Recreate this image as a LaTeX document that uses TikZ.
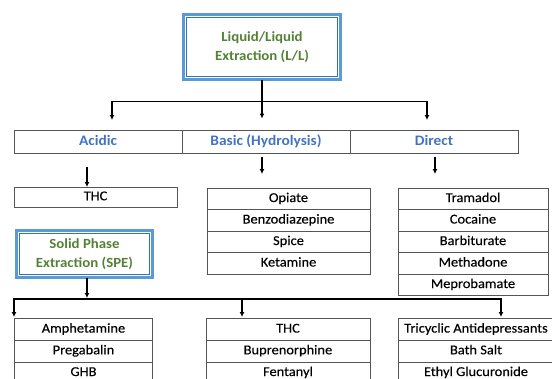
\documentclass[tikz,border=0pt]{standalone}
\usepackage{fontspec}
\setmainfont{Carlito}[FakeStretch=1.06]
\newfontfamily\itemfont{Carlito}[FakeStretch=1.07, FakeBold=0.25]
\usetikzlibrary{calc,positioning,arrows.meta}
\definecolor{outerblue}{RGB}{91,155,213}
\definecolor{innerblue}{RGB}{46,117,182}
\definecolor{headblue}{RGB}{68,114,196}
\definecolor{extgreen}{RGB}{84,130,53}
\definecolor{gridgray}{RGB}{85,85,85}
\tikzset{
  extbox/.style={draw=outerblue, line width=3pt, inner sep=0pt, outer sep=0pt, align=center, text=extgreen, font=\fontsize{14}{19}\selectfont\bfseries},
  headcell/.style={draw=gridgray, line width=0.8pt, inner sep=0pt, outer sep=0pt, minimum width=168pt, minimum height=23pt, text=headblue, font=\fontsize{14.5}{16}\selectfont\bfseries, text height=10pt, text depth=3pt},
  cell/.style={draw=gridgray, line width=0.8pt, inner sep=0pt, outer sep=0pt, minimum width=#1, minimum height=21.5pt, font=\itemfont\fontsize{13.5}{15}\selectfont, text height=9.5pt, text depth=3pt},
  link/.style={line width=1.3pt}
}
\begin{document}
\begin{tikzpicture}[x=1pt, y=-1pt, >={Latex[length=5pt,width=5pt]}]
  \useasboundingbox (0,0) rectangle (552,378);
  \clip (0,0) rectangle (552,378);
	\node[extbox, minimum width=157pt, minimum height=65pt] (LL) at (262,47) {Liquid/Liquid\\Extraction (L/L)};
	\node[headcell] (HA) at (98,141.5) {Acidic};
	\node[headcell, right=0pt of HA] (HB) {Basic (Hydrolysis)};
	\node[headcell, right=0pt of HB] (HD) {Direct};
	\node[cell=163pt, minimum height=20pt] (THC) at (95.5,197) {THC};
	\node[cell=163pt] (B1) at (288.5,198.75) {Opiate};
	\node[cell=163pt, below=0pt of B1] (B2) {Benzodiazepine};
	\node[cell=163pt, below=0pt of B2] (B3) {Spice};
	\node[cell=163pt, below=0pt of B3] (B4) {Ketamine};
	\node[cell=150pt] (D1) at (473,198.75) {Tramadol};
	\node[cell=150pt, below=0pt of D1] (D2) {Cocaine};
	\node[cell=150pt, below=0pt of D2] (D3) {Barbiturate};
	\node[cell=150pt, below=0pt of D3] (D4) {Methadone};
	\node[cell=150pt, below=0pt of D4] (D5) {Meprobamate};
	\node[extbox, minimum width=136pt, minimum height=47pt] (SPE) at (84.5,254) {Solid Phase\\Extraction (SPE)};
	\node[cell=138pt, minimum height=21.7pt] (L1) at (83.5,329.35) {Amphetamine};
	\node[cell=138pt, minimum height=21.7pt, below=0pt of L1] (L2) {Pregabalin};
	\node[cell=138pt, minimum height=21.7pt, below=0pt of L2] (L3) {GHB};
	\node[cell=164pt, minimum height=21.7pt] (M1) at (288,329.35) {THC};
	\node[cell=164pt, minimum height=21.7pt, below=0pt of M1] (M2) {Buprenorphine};
	\node[cell=164pt, minimum height=21.7pt, below=0pt of M2] (M3) {Fentanyl};
	\node[cell=156pt, minimum height=21.7pt] (R1) at (476,329.35) {Tricyclic Antidepressants};
	\node[cell=156pt, minimum height=21.7pt, below=0pt of R1] (R2) {Bath Salt};
	\node[cell=156pt, minimum height=21.7pt, below=0pt of R2] (R3) {Ethyl Glucuronide};
	% inner frame of the extraction boxes
	\foreach \b in {LL,SPE}
	  \draw[innerblue, line width=1.2pt] ($(\b.north west)+(3.2,3.2)$) rectangle ($(\b.south east)+(-3.2,-3.2)$);
	\coordinate (tA) at (112,120);
	\coordinate (tD) at (427,120);
	\coordinate (sA) at (87,167);
	\coordinate (sB) at (262,157);
	\coordinate (eB) at (262,174);
	\coordinate (sD) at (435,157);
	\coordinate (eD) at (435,174);
	\coordinate (fk) at (87,299);
	\coordinate (cL) at (14,317);
	\coordinate (cM) at (242,317);
	\coordinate (cR) at (501,317);
	\draw[link,->] (LL.south) -- ++(0,39);
	\draw[link,->] ($(LL.south)+(0,22)$) -| (tA);
	\draw[link,->] ($(LL.south)+(0,22)$) -| (tD);
	\draw[link,->] (sA) -- (sA |- THC.north);
	\draw[link,->] (sB) -- (eB);
	\draw[link,->] (sD) -- (eD);
	\draw[link,->] ([xshift=2.5pt]SPE.south) -- ++(0,20.5);
	\draw[link,->] (fk) -| (cL);
	\draw[link,->] (fk) -| (cR);
	\draw[link,->] (fk -| cM) -- (cM);
\end{tikzpicture}
\end{document}
